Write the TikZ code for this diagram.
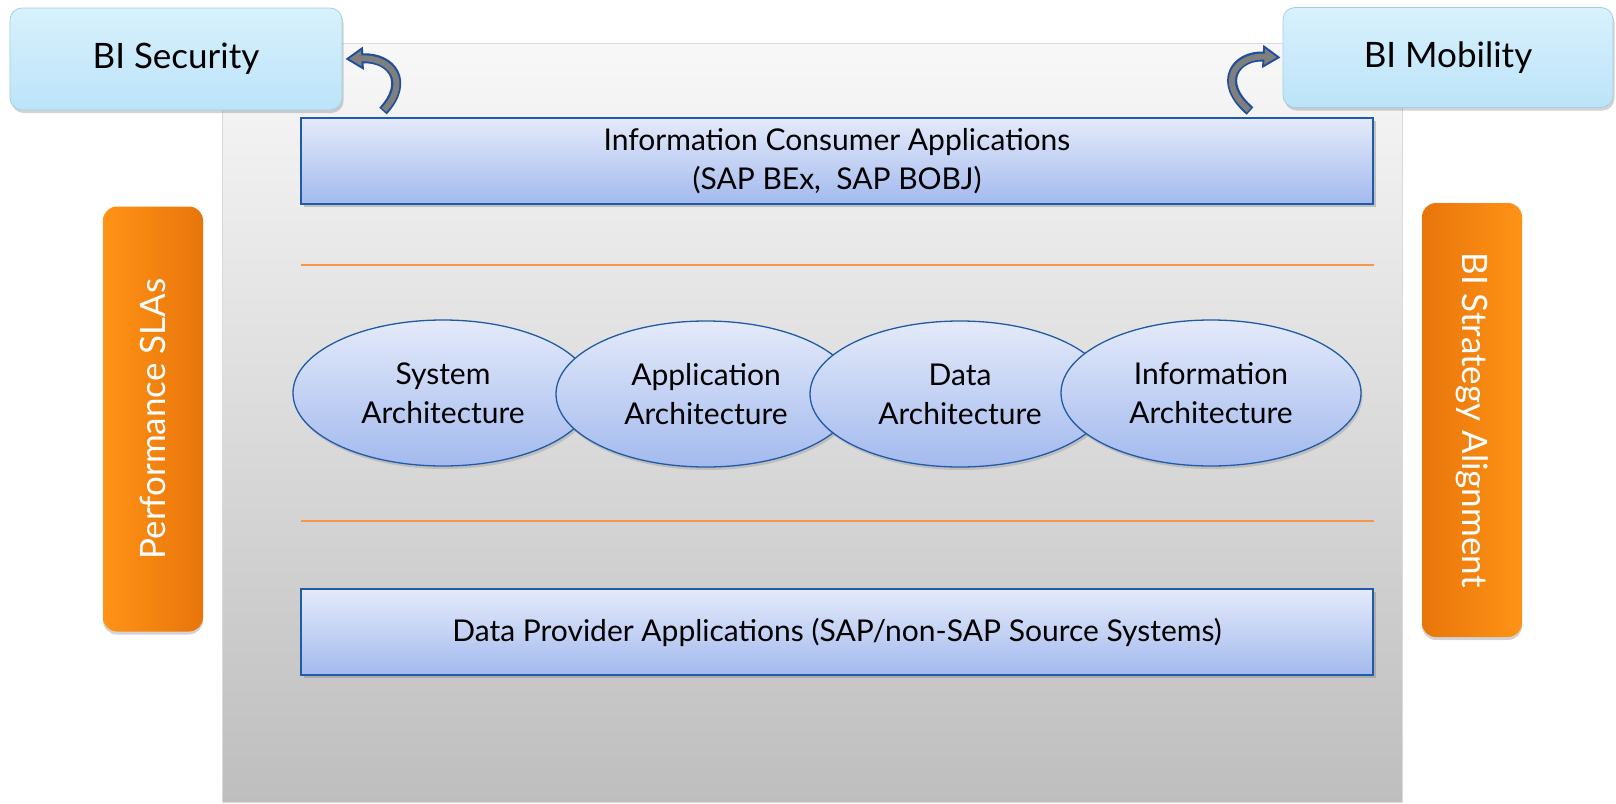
\documentclass[tikz,border=0pt]{standalone}
\usepackage{fontspec}
\setmainfont{Lato}
\usetikzlibrary{arrows.meta,positioning,shapes.geometric,shadows}

\definecolor{panelTop}{HTML}{F8F8F8}
\definecolor{panelBot}{HTML}{BEBEBE}
\definecolor{panelLine}{HTML}{DADADA}
\definecolor{layerTop}{HTML}{E4EAFA}
\definecolor{layerBot}{HTML}{A3BAEE}
\definecolor{layerLine}{HTML}{1F5BA6}
\definecolor{biTop}{HTML}{D8F1FD}
\definecolor{biBot}{HTML}{BCE3F8}
\definecolor{biLine}{HTML}{A6CDE4}
\definecolor{orgLight}{HTML}{FF9316}
\definecolor{orgDark}{HTML}{E8750B}
\definecolor{sepColor}{HTML}{F79646}
\definecolor{bandGray}{HTML}{7F7F7F}
\definecolor{bandBlue}{HTML}{1F4E9A}

\begin{document}
\begin{tikzpicture}[x=1pt, y=-1pt,
    layer/.style={draw=layerLine, line width=1.6pt, top color=layerTop, bottom color=layerBot,
        minimum width=1072pt, minimum height=86pt, align=center,
        font=\fontsize{30}{39}\selectfont,
        drop shadow={shadow xshift=2.5pt, shadow yshift=-3pt, opacity=0.4}},
    archnode/.style={ellipse, draw=layerLine, line width=1.3pt, top color=layerTop, bottom color=layerBot,
        minimum width=300pt, minimum height=146pt, align=center, inner sep=0pt,
        font=\fontsize{30}{39}\selectfont,
        drop shadow={shadow xshift=1.5pt, shadow yshift=-3pt, opacity=0.3}},
    bibox/.style={rectangle, rounded corners=12pt, draw=biLine, line width=0.8pt, top color=biTop, bottom color=biBot,
        minimum width=330pt, minimum height=100pt, font=\fontsize{35}{42}\selectfont,
        drop shadow={shadow xshift=1.5pt, shadow yshift=-3pt, opacity=0.35}},
    sidebar/.style={rectangle, rounded corners=14pt,
        minimum height=100pt, text=white, font=\fontsize{35}{42}\selectfont,
        drop shadow={shadow xshift=0pt, shadow yshift=-3pt, opacity=0.35}},
    sepline/.style={draw=sepColor, line width=1.5pt},
    bandout/.style={draw=bandBlue, line width=10pt, -{Triangle[length=18pt, width=22pt]}},
    bandin/.style={draw=bandGray, line width=6pt, shorten >=3.8pt, shorten <=1.5pt,
        -{Triangle[length=12.2pt, width=14.9pt]}}
  ]
    \useasboundingbox (0,0) rectangle (1616,803);

    % background panel
    \path[draw=panelLine, line width=0.8pt, top color=panelTop, bottom color=panelBot]
        (222,43) rectangle (1402,802);

    % separators
    \draw[sepline] (301,265) -- (1374,265);
    \draw[sepline] (301,521) -- (1374,521);

    % layers
    \node[layer] (consumer) at (837,161) {Information Consumer Applications\\(SAP BEx,\ \ SAP BOBJ)};
    \node[layer] (provider) at (837,632) {Data Provider Applications (SAP/non-SAP Source Systems)};

    % architecture ellipses
    \node[archnode] (sysarch)  at (443,393)  {System\\Architecture};
    \node[archnode] (apparch)  at (706,394)  {Application\\Architecture};
    \node[archnode] (dataarch) at (960,394)  {Data\\Architecture};
    \node[archnode] (infoarch) at (1211,393) {Information\\Architecture};

    % side bars
    \node[sidebar, minimum width=425pt, rotate=90, left color=orgLight, right color=orgDark]
        (perfsla) at (153,419) {Performance SLAs};
    \node[sidebar, minimum width=434pt, rotate=-90, left color=orgDark, right color=orgLight]
        (strategy) at (1472,420) {BI Strategy Alignment};

    % corner boxes
    \node[bibox, minimum width=332pt, minimum height=102pt] (secbox) at (176,59)   {BI Security};
    \node[bibox] (mobbox) at (1448,57.5) {BI Mobility};

    % curved arrows
    \coordinate (secTail) at (383,111);
    \coordinate (mobTail) at (1250,111);
    \draw[bandout] (secTail) .. controls (410,82) and (392,57) .. ([xshift=3pt]secbox.east);
    \draw[bandin]  (secTail) .. controls (410,82) and (392,57) .. ([xshift=3pt]secbox.east);
    \draw[bandout] (mobTail) .. controls (1216,82) and (1236,55) .. ([xshift=-2pt]mobbox.west);
    \draw[bandin]  (mobTail) .. controls (1216,82) and (1236,55) .. ([xshift=-2pt]mobbox.west);
\end{tikzpicture}
\end{document}
